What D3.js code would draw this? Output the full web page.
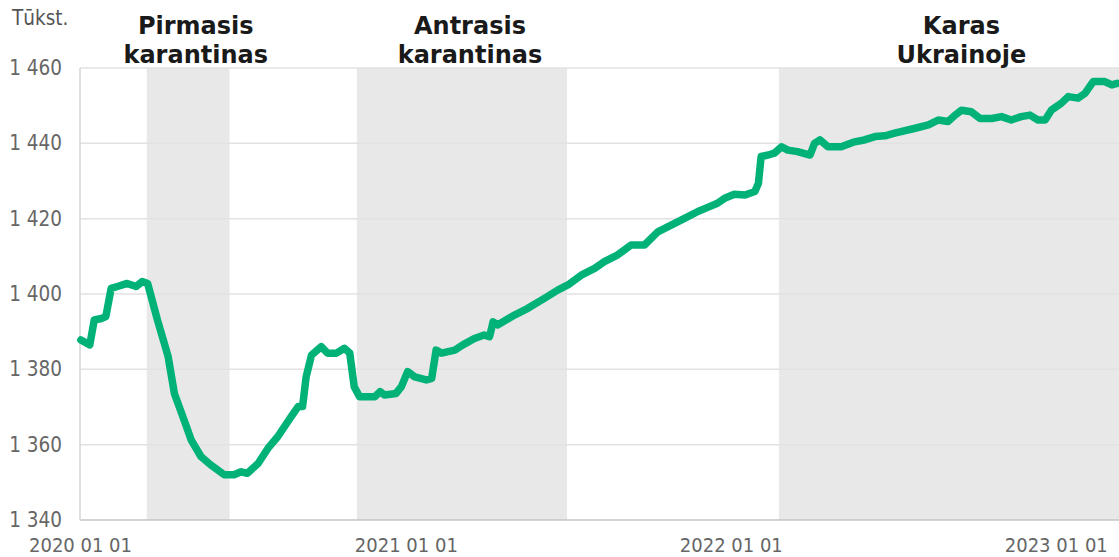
<!DOCTYPE html>
<html>
<head>
<meta charset="utf-8">
<script src="https://cdn.jsdelivr.net/npm/d3@7"></script>
<style>
  html, body { margin: 0; padding: 0; background: #fff; }
  svg { display: block; }
</style>
</head>
<body>
<svg id="chart" width="1119" height="557"></svg>
<script>
// ---- data ----
const dates = [
  "2020-01-02","2020-01-12","2020-01-17","2020-01-25","2020-01-30","2020-02-05","2020-02-12","2020-02-23",
  "2020-03-04","2020-03-11","2020-03-17","2020-03-28","2020-04-09","2020-04-16","2020-04-27","2020-05-05",
  "2020-05-16","2020-05-27","2020-06-11","2020-06-22","2020-06-30","2020-07-07","2020-07-19","2020-07-30",
  "2020-08-10","2020-08-25","2020-09-02","2020-09-07","2020-09-11","2020-09-17","2020-09-28","2020-10-05",
  "2020-10-15","2020-10-24","2020-10-30","2020-11-04","2020-11-10","2020-11-27","2020-12-03","2020-12-08",
  "2020-12-21","2020-12-27","2021-01-03","2021-01-11","2021-01-24","2021-01-30","2021-02-04","2021-02-10",
  "2021-02-25","2021-03-06","2021-03-19","2021-03-30","2021-04-05","2021-04-09","2021-04-14","2021-05-03",
  "2021-05-18","2021-06-06","2021-06-21","2021-07-02","2021-07-17","2021-08-01","2021-08-12","2021-08-27",
  "2021-09-11","2021-09-26","2021-10-11","2021-10-26","2021-11-10","2021-11-25","2021-12-06","2021-12-17",
  "2021-12-25","2022-01-05","2022-01-17","2022-01-28","2022-02-01","2022-02-04","2022-02-12","2022-02-19",
  "2022-02-27","2022-03-06","2022-03-17","2022-03-31","2022-04-05","2022-04-11","2022-04-20","2022-05-05",
  "2022-05-20","2022-05-31","2022-06-12","2022-06-23","2022-07-04","2022-07-27","2022-08-11","2022-08-22",
  "2022-09-02","2022-09-10","2022-09-17","2022-09-28","2022-10-08","2022-10-21","2022-11-01","2022-11-12",
  "2022-11-23","2022-12-03","2022-12-12","2022-12-20","2022-12-27","2023-01-07","2023-01-15","2023-01-26",
  "2023-02-03","2023-02-12","2023-02-25","2023-03-05","2023-03-11"
];
const values = [
  1387.8,1386.5,1393.1,1393.5,1394.0,1401.5,1402.0,1402.8,
  1402.0,1403.3,1402.8,1393.1,1383.4,1373.6,1366.5,1361.2,
  1356.8,1354.6,1352.0,1352.0,1352.8,1352.4,1355.0,1359.0,
  1362.1,1367.4,1370.1,1370.1,1378.0,1383.8,1386.0,1384.3,
  1384.3,1385.6,1384.3,1375.4,1372.7,1372.7,1374.1,1373.2,
  1373.6,1375.4,1379.4,1378.0,1377.2,1377.6,1385.1,1384.3,
  1385.1,1386.5,1388.2,1389.1,1388.7,1392.6,1391.8,1394.4,
  1396.2,1398.9,1401.1,1402.4,1405.0,1406.8,1408.6,1410.4,
  1413.0,1413.0,1416.5,1418.3,1420.1,1421.9,1423.0,1424.1,
  1425.4,1426.5,1426.3,1427.2,1429.4,1436.5,1436.9,1437.4,
  1439.1,1438.2,1437.8,1436.9,1440.0,1440.9,1439.1,1439.1,
  1440.4,1440.9,1441.8,1442.0,1442.7,1444.0,1444.9,1446.2,
  1445.8,1447.5,1448.8,1448.4,1446.6,1446.6,1447.1,1446.2,
  1447.1,1447.5,1446.2,1446.2,1448.8,1450.6,1452.4,1452.0,
  1453.3,1456.4,1456.4,1455.5,1455.9
];
const periodNames = [["Pirmasis","karantinas"],["Antrasis","karantinas"],["Karas","Ukrainoje"]];
const periodStart = ["2020-03-16","2020-11-07","2022-02-24"];
const periodEnd   = ["2020-06-17","2021-07-01","2023-03-14"];
const periodLabelAt = ["2020-05-10","2021-03-14","2022-09-17"];
const yTicks = [1340,1360,1380,1400,1420,1440,1460];
const xTicks = ["2020-01-01","2021-01-01","2022-01-01","2023-01-01"];
const xTickLabels = ["2020 01 01","2021 01 01","2022 01 01","2023 01 01"];
const unitLabel = "Tūkst.";

// ---- drawing ----
(function () {
const parse = d3.utcParse("%Y-%m-%d");
const pL = 80, pR = 1119, pT = 68, pB = 520;
const svg = d3.select("#chart");
const font = "'DejaVu Sans Condensed', 'DejaVu Sans', Verdana, sans-serif";

const x = d3.scaleUtc()
  .domain([parse("2020-01-01"), parse("2023-03-13")])
  .range([pL, pR]);
const y = d3.scaleLinear().domain([1340, 1460]).range([pB, pT]);

// shaded periods
svg.append("g").selectAll("rect").data(periodStart).join("rect")
  .attr("x", (d) => x(parse(d)))
  .attr("y", pT)
  .attr("width", (d, i) => Math.min(x(parse(periodEnd[i])), pR) - x(parse(d)))
  .attr("height", pB - pT)
  .attr("fill", "#e8e8e8");

// gridlines
svg.append("g").selectAll("line").data(yTicks.filter(v => v !== 1340)).join("line")
  .attr("x1", pL).attr("x2", pR)
  .attr("y1", d => y(d)).attr("y2", d => y(d))
  .attr("stroke", "#e2e2e2").attr("stroke-width", 1.5);

// axes lines
svg.append("line").attr("x1", pL).attr("x2", pR).attr("y1", pB).attr("y2", pB)
  .attr("stroke", "#c4c4c4").attr("stroke-width", 1.5);
svg.append("line").attr("x1", pL).attr("x2", pL).attr("y1", pT).attr("y2", pB)
  .attr("stroke", "#d4d4d4").attr("stroke-width", 1.5);

// y axis labels
const fmt = v => d3.format(",")(v).replace(",", " ");
const yAxis = d3.axisLeft(y).tickValues(yTicks).tickSize(0).tickPadding(0).tickFormat(fmt);
const gy = svg.append("g").attr("transform", "translate(62,0)").call(yAxis);
gy.select(".domain").remove();
gy.selectAll("text").attr("font-family", font).attr("font-size", "20.5px").attr("fill", "#666").attr("x", 0);

// x axis labels
const xAxis = d3.axisBottom(x).tickValues(xTicks.map(parse)).tickSize(0).tickPadding(0)
  .tickFormat((d, i) => xTickLabels[i]);
const gx = svg.append("g").attr("transform", `translate(0,${pB})`).call(xAxis);
gx.select(".domain").remove();
gx.selectAll("text").attr("font-family", font).attr("font-size", "20px").attr("fill", "#666")
  .attr("dy", null).attr("y", 32);

// unit label
svg.append("text").attr("x", 12).attr("y", 25).text(unitLabel)
  .attr("font-family", font).attr("font-size", "20.5px").attr("fill", "#555");

// period titles
periodNames.forEach((lines, i) => {
  const t = svg.append("text").attr("text-anchor", "middle")
    .attr("font-family", "'DejaVu Sans', Verdana, sans-serif").attr("font-weight", "bold")
    .attr("font-size", "24px").attr("fill", "#1a1a1a");
  lines.forEach((s, j) => {
    t.append("tspan").attr("x", x(parse(periodLabelAt[i]))).attr("y", 34 + j * 28.5).text(s);
  });
});

// line
const series = dates.map((d, i) => ({ date: parse(d), value: values[i] }));
const line = d3.line().x(d => x(d.date)).y(d => y(d.value));
svg.append("path").datum(series).attr("d", line)
  .attr("fill", "none").attr("stroke", "#00b277").attr("stroke-width", 7.5)
  .attr("stroke-linejoin", "round").attr("stroke-linecap", "round");
})();
</script>
</body>
</html>
